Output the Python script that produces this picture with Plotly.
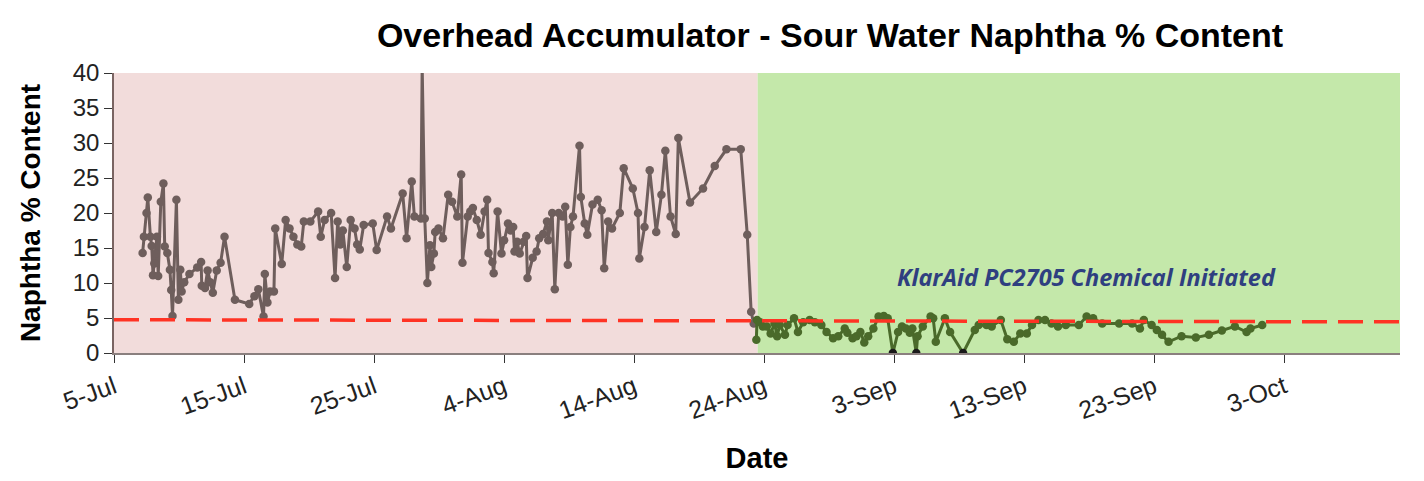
import pandas as pd
import plotly.graph_objects as go

# dia 0 = 5-Jul
inicio = pd.Timestamp("2019-07-05")

# antes do tratamento (dias desde 5-Jul, % nafta)
antes_dia = [2.2, 2.3, 2.5, 2.6, 2.8, 2.9, 3.0, 3.1, 3.2, 3.3, 3.4, 3.6, 3.8, 3.9,
             4.1, 4.3, 4.4, 4.5, 4.8, 4.95, 5.1, 5.2, 5.4, 5.8, 6.4, 6.7, 6.75, 7.0,
             7.2, 7.4, 7.6, 7.9, 8.2, 8.5, 9.3, 10.4, 10.8, 11.1, 11.5, 11.6, 11.8,
             12.0, 12.3, 12.4, 12.9, 13.2, 13.5, 13.8, 14.1, 14.4, 14.6, 15.1, 15.7,
             15.9, 16.2, 16.7, 17.0, 17.2, 17.4, 17.6, 17.9, 18.2, 18.5, 18.7, 18.9,
             19.2, 19.9, 20.2, 21.0, 21.3, 22.2, 22.5, 22.9, 23.1, 23.6, 23.7, 23.9,
             24.1, 24.3, 24.4, 24.6, 24.7, 24.95, 25.3, 25.7, 26.0, 26.4, 26.7, 26.8,
             27.2, 27.4, 27.6, 27.9, 28.2, 28.5, 28.7, 28.8, 29.1, 29.2, 29.5, 29.8,
             30.0, 30.3, 30.5, 30.7, 30.8, 31.0, 31.2, 31.5, 31.7, 31.8, 32.2, 32.5,
             32.7, 33.0, 33.3, 33.4, 33.7, 33.9, 34.2, 34.5, 34.7, 34.9, 35.1, 35.3,
             35.8, 35.9, 36.2, 36.4, 36.8, 37.2, 37.5, 37.7, 38.0, 38.3, 38.9, 39.2,
             39.9, 40.3, 40.4, 40.8, 41.2, 41.7, 42.1, 42.4, 42.8, 43.2, 43.4, 44.3,
             45.3, 46.2, 47.1, 48.2, 48.7, 49.0, 49.2]
antes_val = [14.3, 16.6, 20.0, 22.2, 16.6, 15.3, 11.1, 12.8, 14.2, 16.6, 11.0, 21.6, 24.2, 15.2,
             14.3, 11.9, 9.0, 5.3, 21.9, 7.6, 11.9, 8.8, 10.1, 11.3, 12.2, 13.0, 9.6, 9.3,
             11.8, 10.1, 8.6, 11.8, 12.9, 16.6, 7.6, 7.0, 8.1, 9.1, 5.2, 11.3, 7.2,
             8.8, 8.8, 17.8, 12.7, 19.0, 17.8, 16.6, 15.5, 15.2, 18.8, 18.8, 20.2,
             16.6, 19.0, 20.0, 10.7, 18.8, 15.5, 17.5, 12.3, 19.0, 17.8, 15.5, 14.8,
             18.3, 18.5, 14.7, 19.5, 17.8, 22.8, 16.4, 24.5, 19.5, 19.2, 41.0, 19.2,
             10.0, 15.4, 12.3, 14.2, 17.3, 17.8, 16.4, 22.6, 21.6, 19.5, 25.5, 12.9,
             19.5, 20.2, 20.7, 19.0, 16.9, 20.2, 21.9, 14.3, 13.0, 11.4, 20.2, 14.2,
             16.1, 18.5, 17.5, 18.0, 14.5, 15.9, 14.2, 15.9, 16.7, 10.7, 13.6, 14.5,
             16.4, 17.0, 18.8, 16.1, 20.0, 9.1, 20.0, 19.5, 20.9, 12.6, 18.0, 19.5,
             29.6, 22.3, 18.5, 16.9, 21.2, 21.9, 20.4, 12.1, 18.8, 17.8, 20.0, 26.4,
             23.5, 20.0, 13.5, 18.0, 26.1, 17.3, 22.6, 28.9, 19.5, 17.0, 30.7, 21.5,
             23.5, 26.7, 29.1, 29.1, 16.9, 5.9, 4.2]

# depois do KlarAid PC2705
depois_dia = [49.4, 49.45, 49.7, 49.9, 50.2, 50.5, 50.8, 51.0, 51.2, 51.6, 51.8, 52.3,
              52.6, 53.0, 53.5, 53.9, 54.4, 54.8, 55.3, 55.7, 56.2, 56.4, 56.8, 57.1,
              57.4, 57.7, 58.0, 58.4, 58.8, 59.2, 59.5, 59.9, 60.3, 60.6, 60.9, 61.2,
              61.4, 61.7, 61.8, 62.2, 62.8, 63.0, 63.2, 63.9, 64.3, 65.3, 66.2, 66.5,
              67.1, 67.5, 68.2, 68.7, 69.2, 69.7, 70.2, 70.6, 71.1, 71.6, 72.1, 72.6,
              73.2, 74.2, 74.8, 75.3, 76.0, 77.3, 78.3, 78.9, 79.2, 79.8, 80.2, 80.6,
              81.1, 82.1, 83.2, 84.2, 85.2, 86.2, 87.1, 87.4, 88.3]
depois_val = [1.9, 4.7, 4.4, 3.8, 3.8, 2.8, 4.2, 2.4, 4.0, 2.6, 4.0, 4.95,
              3.0, 4.4, 4.7, 4.4, 4.0, 3.0, 2.1, 2.4, 3.5, 2.9, 2.1, 2.4,
              3.0, 1.5, 2.4, 3.5, 5.2, 5.3, 4.95, 0.0, 3.0, 3.8, 3.5, 2.9,
              3.5, 0.0, 2.4, 3.8, 5.2, 4.95, 1.6, 4.95, 3.0, 0.0, 3.3, 4.0,
              4.0, 3.8, 4.7, 1.95, 1.6, 2.8, 2.8, 4.0, 4.7, 4.7, 4.2, 3.8,
              4.0, 4.0, 5.2, 4.95, 4.2, 4.2, 4.2, 3.5, 4.7, 4.0, 3.3, 2.6,
              1.6, 2.4, 2.2, 2.6, 3.2, 3.8, 3.0, 3.5, 4.0]

inicio_tratamento = 49.5   # dia em que o produto entrou
fim_eixo = 98.9
limite = (4.75, 4.45)      # linha tracejada (esq, dir)

datas_antes = inicio + pd.to_timedelta(antes_dia, unit="D")
datas_depois = inicio + pd.to_timedelta(depois_dia, unit="D")
data_trat = inicio + pd.to_timedelta(inicio_tratamento, unit="D")
data_fim = inicio + pd.to_timedelta(fim_eixo, unit="D")

marrom = '#6E5E5C'
verde = '#4A6A2A'
# pontos em zero aparecem escuros no original
cores_depois = ['#1A1A1A' if v <= 0 else verde for v in depois_val]

fig = go.Figure()

fig.add_trace(go.Scatter(x=datas_antes, y=antes_val,
                         mode='lines+markers',
                         line=dict(color=marrom, width=3),
                         marker=dict(color=marrom, size=8.5),
                         showlegend=False))

fig.add_trace(go.Scatter(x=datas_depois, y=depois_val,
                         mode='lines+markers',
                         line=dict(color=verde, width=3),
                         marker=dict(color=cores_depois, size=8.5),
                         showlegend=False))

# fundos
fig.add_shape(type='rect', xref='x', yref='paper', x0=inicio, x1=data_trat, y0=0, y1=1,
              fillcolor='#F2DCDB', line=dict(width=0), layer='below')
fig.add_shape(type='rect', xref='x', yref='paper', x0=data_trat, x1=data_fim, y0=0, y1=1,
              fillcolor='#C4E8AA', line=dict(width=0), layer='below')

# linha limite
fig.add_shape(type='line', xref='paper', yref='y', x0=0, x1=1, y0=limite[0], y1=limite[1],
              line=dict(color='#FF3324', width=3.5, dash='25px,11px'))

fig.add_annotation(x=inicio + pd.to_timedelta(74.8, unit="D"), y=10.9, xref='x', yref='y',
                   text='<b><i>KlarAid PC2705 Chemical Initiated</i></b>',
                   showarrow=False,
                   font=dict(family='Open Sans', size=23.5, color='#2F3F80'))

# a página tem 8px de margem no body
fig.update_layout(
    width=1416, height=473,
    margin=dict(l=106, r=24, t=65, b=128),
    paper_bgcolor='white',
    plot_bgcolor='white',
    font=dict(family='Liberation Sans, Arial', color='#222'),
    title=dict(text='<b>Overhead Accumulator - Sour Water Naphtha % Content</b>',
               x=0.5805, xanchor='center', y=0.943, yanchor='middle',
               font=dict(size=34, color='black')),
)

fig.update_xaxes(range=[inicio, data_fim],
                 tick0=inicio, dtick=10 * 86400000,
                 tickformat='%-d-%b', tickangle=-20,
                 tickfont=dict(size=25, color='#222'),
                 ticks='outside', ticklen=8, tickcolor='#333',
                 showline=True, linecolor='#8A7F7E', linewidth=1.5,
                 showgrid=False, zeroline=False,
                 title=dict(text='<b>Date</b>', font=dict(size=29, color='black'), standoff=24))

fig.update_yaxes(range=[0, 40], dtick=5,
                 tickfont=dict(size=24, color='#222'),
                 ticks='outside', ticklen=8, tickcolor='#333',
                 showline=True, linecolor='#7A6462', linewidth=1.5,
                 showgrid=False, zeroline=False,
                 title=dict(text='<b>Naphtha % Content</b>', font=dict(size=28, color='black'), standoff=24))

fig.write_html("out.html")
